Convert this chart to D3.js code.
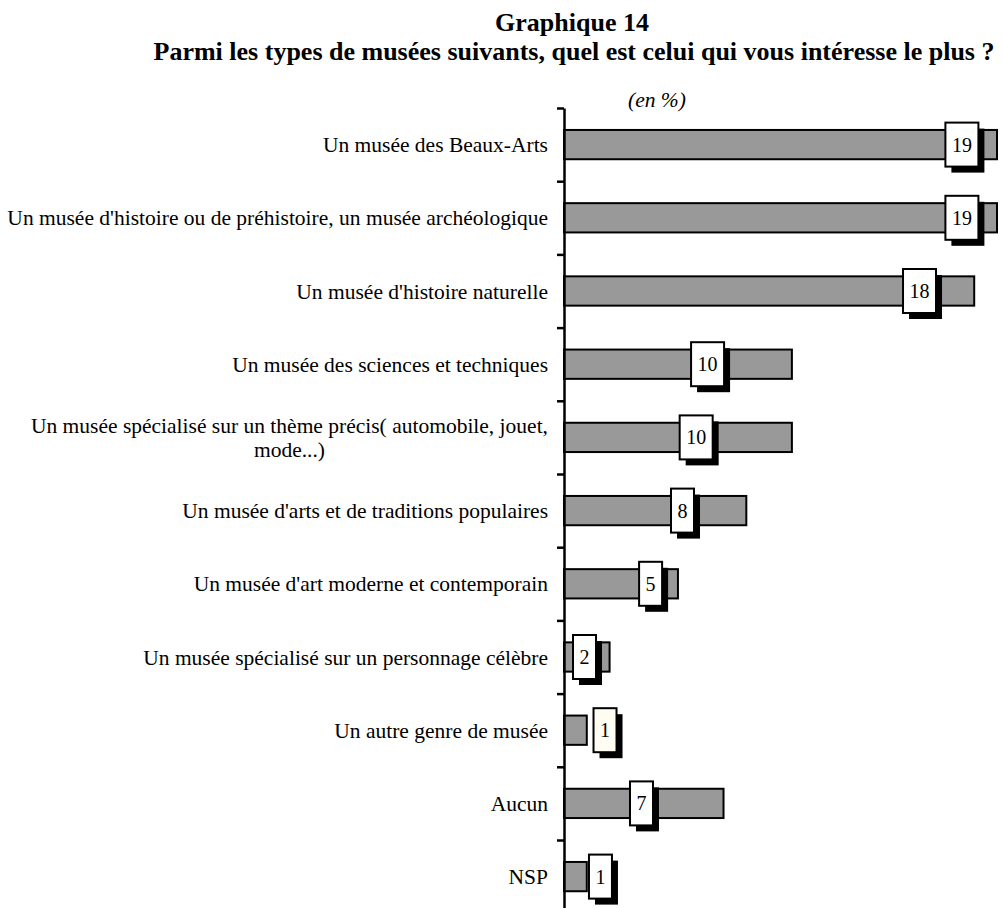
<html>
<head>
  <title>Graphique 14</title>
  <script src='https://d3js.org/d3.v7.min.js'></script>
  <style>
  body { margin: 0; background: #fff; }
  </style>
</head>
<body>
  <script>

var width = 1003,
    height = 908;

// données (en %)
var categories = [
  "Un musée des Beaux-Arts",
  "Un musée d'histoire ou de préhistoire, un musée archéologique",
  "Un musée d'histoire naturelle",
  "Un musée des sciences et techniques",
  "Un musée spécialisé sur un thème précis( automobile, jouet,|mode...)",
  "Un musée d'arts et de traditions populaires",
  "Un musée d'art moderne et contemporain",
  "Un musée spécialisé sur un personnage célèbre",
  "Un autre genre de musée",
  "Aucun",
  "NSP"
];
var values = [19, 19, 18, 10, 10, 8, 5, 2, 1, 7, 1];
// where each value label sits along the bar (in % units, as placed in the original)
var labelAt = [17.46, 17.46, 15.6, 6.3, 5.8, 5.2, 3.8, 0.9, 1.8, 3.4, 1.6];

var svg = d3.select('body')
  .append('svg')
  .attr('width', width)
  .attr('height', height)
  .attr('font-family', 'Liberation Serif, Times New Roman, Times, serif');

var axisX = 564, top0 = 108, step = 73.2;

var x = d3.scaleLinear()
  .domain([0, 19])
  .range([axisX, 997]);

var y = d3.scaleBand()
  .domain(categories)
  .range([top0, top0 + step * categories.length])
  .paddingInner(0.6)
  .paddingOuter(0.3);

// titre
svg.append('text')
  .attr('x', 572).attr('y', 31)
  .attr('text-anchor', 'middle')
  .attr('font-weight', 'bold').attr('font-size', 26)
  .text('Graphique 14');
svg.append('text')
  .attr('x', 574).attr('y', 60)
  .attr('text-anchor', 'middle')
  .attr('font-weight', 'bold').attr('font-size', 26)
  .text('Parmi les types de musées suivants, quel est celui qui vous intéresse le plus ?');

svg.append('text')
  .attr('x', 628).attr('y', 107)
  .attr('font-style', 'italic').attr('font-size', 21.5)
  .text('(en %)');

// bars
svg.append('g').selectAll('rect')
  .data(values)
  .enter()
  .append('rect')
  .attr('x', x(0))
  .attr('y', function(d, i) { return y(categories[i]); })
  .attr('width', function(d) { return x(d) - x(0); })
  .attr('height', y.bandwidth())
  .attr('fill', '#999999')
  .attr('stroke', '#000')
  .attr('stroke-width', 2);

// axe vertical
var tickScale = d3.scaleLinear()
  .domain([0, categories.length])
  .range([top0, top0 + step * categories.length]);

var axis = svg.append('g')
  .attr('transform', 'translate(' + axisX + ',0)')
  .call(d3.axisLeft(tickScale).ticks(categories.length).tickFormat('').tickSize(7).tickSizeOuter(0));
axis.select('.domain').attr('stroke-width', 2.5);
axis.selectAll('.tick line').attr('stroke-width', 2.5);

// category labels
var labels = svg.append('g').selectAll('text')
  .data(categories)
  .enter()
  .append('text')
  .attr('font-size', 21.5)
  .attr('fill', '#000');

labels.each(function(c) {
  var t = d3.select(this);
  var cy = y(c) + y.bandwidth() / 2;
  var lines = c.split('|');
  if (lines.length == 1) {
    t.attr('x', 548).attr('y', cy).attr('dy', '0.35em')
      .attr('text-anchor', 'end').text(c);
  } else {
    t.attr('text-anchor', 'middle');
    var first = t.append('tspan').attr('y', cy - 12).attr('dy', '0.35em').text(lines[0]);
    var w = first.node().getComputedTextLength();
    first.attr('x', 548 - w / 2);
    t.append('tspan').attr('x', 548 - w / 2).attr('y', cy + 12).attr('dy', '0.35em').text(lines[1]);
  }
});

// value labels (white box with black shadow)
var boxes = svg.append('g').selectAll('g')
  .data(values)
  .enter()
  .append('g')
  .attr('transform', function(d, i) {
    return 'translate(' + x(labelAt[i]) + ',' + (y(categories[i]) + y.bandwidth() / 2) + ')';
  });

function boxW(d) { return String(d).length > 1 ? 33 : 23; }

boxes.append('rect')
  .attr('x', function(d) { return -boxW(d) / 2 + 6; })
  .attr('y', -22 + 6)
  .attr('width', boxW)
  .attr('height', 44)
  .attr('fill', '#000');

boxes.append('rect')
  .attr('x', function(d) { return -boxW(d) / 2; })
  .attr('y', -22)
  .attr('width', boxW)
  .attr('height', 44)
  .attr('fill', function(d, i) { return i == 8 ? '#fffcf2' : '#fff'; })
  .attr('stroke', '#000')
  .attr('stroke-width', 2);

boxes.append('text')
  .attr('text-anchor', 'middle')
  .attr('dy', '0.35em')
  .attr('font-size', 20)
  .text(function(d) { return d; });

  </script>
</body>
</html>
